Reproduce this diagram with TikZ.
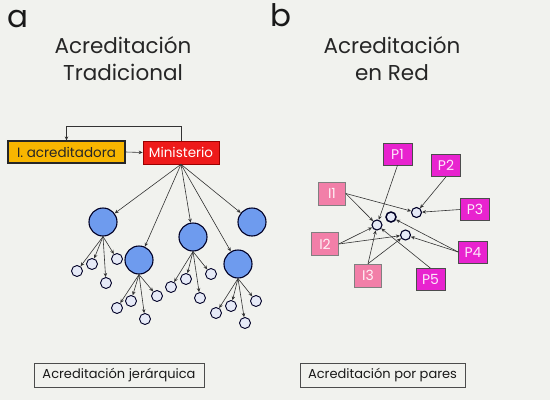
\documentclass[tikz,border=0pt]{standalone}
\usepackage{fontspec}
\setmainfont{Poppins}
\usetikzlibrary{arrows.meta}
\definecolor{bgc}{HTML}{F1F2EE}
\definecolor{orng}{HTML}{F8B600}
\definecolor{redb}{HTML}{EE1A1A}
\definecolor{bigb}{HTML}{6E9BEE}
\definecolor{smlb}{HTML}{E6EAF7}
\definecolor{magb}{HTML}{E823CF}
\definecolor{pinkb}{HTML}{F27FA8}
\definecolor{edge}{HTML}{333333}
\tikzset{
  box/.style={rectangle, inner sep=0pt, font=\fontsize{13.5}{14}\selectfont},
  big/.style={circle, draw=black!85!blue, line width=1.1pt, fill=bigb, minimum size=28pt, inner sep=0pt},
  sml/.style={circle, draw=black!85!blue, line width=0.9pt, fill=smlb, minimum size=11pt, inner sep=0pt},
  net/.style={circle, draw=black!85!blue, line width=1.1pt, fill=smlb, minimum size=10pt, inner sep=0pt},
  pbox/.style={rectangle, draw=black!70, line width=0.6pt, fill=magb, text=white!90!magb, minimum width=29pt, minimum height=22pt, inner sep=0pt, font=\fontsize{14}{14}\selectfont},
  ibox/.style={rectangle, draw=black!50, line width=0.6pt, fill=pinkb, text=white!90!pinkb, minimum width=27pt, minimum height=23pt, inner sep=0pt, font=\fontsize{14}{14}\selectfont},
  arr/.style={draw=edge, line width=0.6pt, -{Stealth[length=4pt,width=3.5pt]}},
  title/.style={align=center, font=\fontsize{21.5}{27}\selectfont, text=black!85},
  letter/.style={font=\fontsize{31}{31}\selectfont, text=black!90},
  capt/.style={rectangle, draw=black!70, line width=0.6pt, font=\fontsize{13}{14}\selectfont, text=black!90, minimum height=24pt, inner sep=0pt}
}
\begin{document}
\begin{tikzpicture}[x=1pt,y=-1pt]
\useasboundingbox (0,0) rectangle (550,413);
\fill[bgc] (0,0) rectangle (550,400);
\fill[white] (0,400) rectangle (550,413);

% letters and titles
\node[letter] (la) at (18,19) {a};
\node[letter] (lb) at (281,15) {b};
\node[title] (ta) at (123,59) {Acreditación\\Tradicional};
\node[title] (tb) at (392,59) {Acreditación\\en Red};

% panel a
\node[box, draw=black!85, line width=1.2pt, fill=orng, text=black!85, minimum width=117pt, minimum height=22pt] (ia) at (66.5,152) {I. acreditadora};
\node[box, draw=red!60!black, line width=0.6pt, fill=redb, text=white, minimum width=76pt, minimum height=23pt] (mi) at (181,152.5) {Ministerio};
\coordinate (fb) at (66.5,126);
\draw[arr] (mi.north) |- (fb) -- (ia.north);
\draw[arr] (ia.east) -- (mi.west);

\node[big] (c1) at (103,222) {};
\node[big] (c2) at (139,260) {};
\node[big] (c3) at (193,237) {};
\node[big] (c4) at (252,222) {};
\node[big] (c5) at (238,264) {};
\foreach \c in {c1,c2,c3,c4,c5} \draw[arr] (mi.south) -- (\c);

\node[sml] (s11) at (77,271) {};
\node[sml] (s12) at (92,264) {};
\node[sml] (s13) at (106,283) {};
\node[sml] (s14) at (117,259) {};
\node[sml] (s21) at (117,308) {};
\node[sml] (s22) at (131,301) {};
\node[sml] (s23) at (145,319) {};
\node[sml] (s24) at (157,296) {};
\node[sml] (s31) at (171,287) {};
\node[sml] (s32) at (186,279) {};
\node[sml] (s33) at (200,298) {};
\node[sml] (s34) at (211,274) {};
\node[sml] (s51) at (216,313) {};
\node[sml] (s52) at (231,306) {};
\node[sml] (s53) at (245,323) {};
\node[sml] (s54) at (256,301) {};
\foreach \p/\q in {1/1,2/2,3/3,5/5}
  \foreach \k in {1,2,3,4}
    \draw[arr] (c\p.south) -- (s\q\k);

% panel b
\node[pbox] (p1) at (397.5,154) {P1};
\node[pbox] (p2) at (446,165.5) {P2};
\node[pbox] (p3) at (475,209.5) {P3};
\node[pbox] (p4) at (473,252) {P4};
\node[pbox] (p5) at (430.5,279.5) {P5};
\node[ibox] (i1) at (332,193.5) {I1};
\node[ibox] (i2) at (325,244) {I2};
\node[ibox] (i3) at (368,275.5) {I3};

\node[net] (na) at (377,225) {};
\node[net, line width=1.5pt] (nb) at (391,217) {};
\node[net] (nc) at (416.5,212.5) {};
\node[net] (nd) at (405.5,235) {};

\draw[arr] (p1.south) -- (na);
\draw[arr] (p2.south) -- (nc);
\draw[arr] (p3.west) -- (nc);
\draw[arr] (i1.east) -- (na);
\draw[arr] (i1.east) -- (nc);
\draw[arr] (i2.east) -- (na);
\draw[arr] (i2.east) -- (nd);
\draw[arr] (i3.north) -- (na);
\draw[arr] (i3.north) -- (nd);
\draw[arr] (p4.west) -- (nb);
\draw[arr] (p4.west) -- (nd);
\draw[arr] (p5.north) -- (na);

% captions
\node[capt, minimum width=170pt] (ca) at (119,375) {Acreditación jerárquica};
\node[capt, minimum width=165pt] (cb) at (382.5,375) {Acreditación por pares};
\end{tikzpicture}
\end{document}
